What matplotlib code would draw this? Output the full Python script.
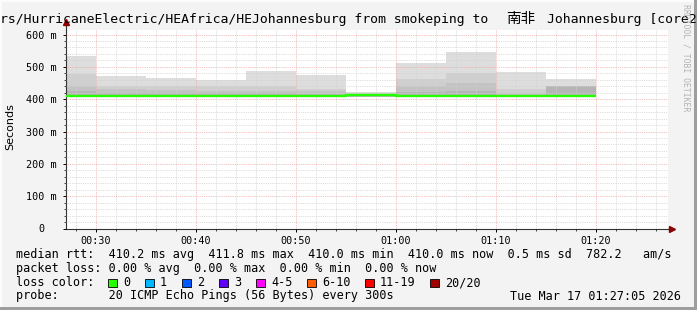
import numpy as np
import matplotlib
matplotlib.use('Agg')
import matplotlib.pyplot as plt
from matplotlib.patches import Rectangle

W, H = 697, 310
MONO = ['DejaVu Sans Mono', 'Noto Sans CJK SC']

# time in minutes after midnight, one bin per 300s step
edges = [27, 30, 35, 40, 45, 50, 55, 60, 65, 70, 75, 80]
median = [410.0, 410.0, 410.0, 410.0, 410.0, 410.0, 413.0, 410.0, 410.0, 410.0, 410.0]
smoke_min = [407, 407, 407, 407, 407, 407, 408, 407, 407, 407, 407]
smoke_lo = [425, 420, 418, 418, 418, 416, 414, 422, 425, 414, 440]
smoke_mid = [442, 430, 428, 424, 426, 424, 416, 440, 450, 420, 440.5]
smoke_hi = [477, 440, 442, 440, 441, 432, 419, 461, 480, 432, 441]
smoke_max = [534, 471, 465, 460, 487, 475, 422, 513, 545, 485, 462]

x_ticks = [30, 40, 50, 60, 70, 80]
x_labels = ['00:30', '00:40', '00:50', '01:00', '01:10', '01:20']
y_ticks = [0, 100, 200, 300, 400, 500, 600]
y_labels = ['0  ', '100 m', '200 m', '300 m', '400 m', '500 m', '600 m']

title_left = 'rs/HurricaneElectric/HEAfrica/HEJohannesburg from smokeping to'
title_cjk = '南非'
title_right = 'Johannesburg [core2'
rtt_row = 'median rtt:  410.2 ms avg  411.8 ms max  410.0 ms min  410.0 ms now  0.5 ms sd  782.2   am/s'
loss_row = 'packet loss: 0.00 % avg  0.00 % max  0.00 % min  0.00 % now'
probe_row = 'probe:       20 ICMP Echo Pings (56 Bytes) every 300s'
stamp = 'Tue Mar 17 01:27:05 2026'
loss_labels = ['0', '1', '2', '3', '4-5', '6-10', '11-19', '20/20']
loss_colors = ['#26ff00', '#00b8ff', '#0059ff', '#5e00ff', '#ff00ff', '#ff5d00', '#ff0000', '#a10000']
loss_box_x = [108, 145, 182, 219, 256, 307, 365, 430]


def fx(px):
    return px / W


def fy(py):
    return 1 - py / H


fig = plt.figure(figsize=(W / 100, H / 100), dpi=100, facecolor='#f3f3f3')

# 3d-ish frame
fig.add_artist(Rectangle((0, fy(2)), 1, 2 / H, transform=fig.transFigure, color='#fcfcfc', lw=0))
fig.add_artist(Rectangle((0, 0), 2 / W, 1, transform=fig.transFigure, color='#fcfcfc', lw=0))
fig.add_artist(Rectangle((fx(694), 0), 3 / W, 1, transform=fig.transFigure, color='#9e9e9e', lw=0))
fig.add_artist(Rectangle((0, 0), 1, 3 / H, transform=fig.transFigure, color='#9e9e9e', lw=0))

ax = fig.add_axes([fx(66), fy(228.5), fx(668) - fx(66), fy(30) - fy(228.5)])
ax.set_facecolor('white')
ax.set_xlim(27, 87.2)
ax.set_ylim(0, 614)

# smoke: nested bands, darker towards the median
ax.stairs(smoke_max, edges, baseline=smoke_min, fill=True, color='#dddddd', lw=0)
ax.stairs(smoke_hi, edges, baseline=smoke_min, fill=True, color='#cfcfcf', lw=0)
ax.stairs(smoke_mid, edges, baseline=smoke_min, fill=True, color='#c3c3c3', lw=0)
ax.stairs(smoke_lo, edges, baseline=smoke_min, fill=True, color='#b5b5b5', lw=0)
ax.stairs(median, edges, baseline=None, color='#26ff00', lw=1.7, zorder=3)

ax.set_xticks(x_ticks)
ax.set_xticklabels(x_labels)
ax.set_xticks(np.arange(28, 88, 2), minor=True)
ax.set_yticks(y_ticks)
ax.set_yticklabels(y_labels)
ax.set_yticks(np.arange(0, 620, 20), minor=True)
ax.set_axisbelow(False)
ax.grid(which='minor', color='#d2d2d2', linestyle=(0, (1, 1.2)), lw=0.6)
ax.grid(which='major', color='#f0a8a8', linestyle=(0, (1, 1.2)), lw=0.6)

for lab in ax.get_xticklabels() + ax.get_yticklabels():
    lab.set_family(MONO)
    lab.set_fontsize(7.3)
ax.tick_params(which='major', length=2.5, width=0.7, direction='out', pad=3)
ax.tick_params(which='minor', length=1.5, width=0.5, direction='out')
ax.tick_params(axis='y', pad=4)

for s in ['top', 'right']:
    ax.spines[s].set_visible(False)
for s in ['left', 'bottom']:
    ax.spines[s].set_linewidth(0.8)
    ax.spines[s].set_color('#333333')

# axis extensions with arrowheads
ax.plot([1.0, 1.005], [0, 0], transform=ax.transAxes, color='#333333', lw=0.8, clip_on=False)
ax.plot([0, 0], [1.0, 1.04], transform=ax.transAxes, color='#333333', lw=0.8, clip_on=False)
ax.plot(1.006, 0, marker='>', ms=4, color='#8b0000', transform=ax.transAxes, clip_on=False)
ax.plot(0, 1.04, marker='^', ms=4, color='#8b0000', transform=ax.transAxes, clip_on=False)

fig.text(fx(0), fy(23), title_left, family=MONO, fontsize=9.45, ha='left', va='baseline')
fig.text(fx(521), fy(23), title_cjk, family=MONO, fontsize=10.5, ha='center', va='baseline')
fig.text(fx(547), fy(23), title_right, family=MONO, fontsize=9.45, ha='left', va='baseline')
fig.text(fx(10), fy(127), 'Seconds', rotation=90, ha='center', va='center', fontsize=8, family='DejaVu Sans')
fig.text(fx(686), fy(58), 'RRDTOOL / TOBI OETIKER', rotation=270, ha='center', va='center',
         fontsize=5.9, family='DejaVu Sans Mono', color='#b4b4b4')

LEG = 8.45
fig.text(fx(16), fy(254.5), rtt_row, family=MONO, fontsize=LEG, ha='left', va='center')
fig.text(fx(16), fy(268.5), loss_row, family=MONO, fontsize=LEG, ha='left', va='center')
fig.text(fx(16), fy(282.5), 'loss color:', family=MONO, fontsize=LEG, ha='left', va='center')
for lab, col, x in zip(loss_labels, loss_colors, loss_box_x):
    fig.add_artist(Rectangle((fx(x), fy(287)), 8.5 / W, 8.5 / H, transform=fig.transFigure,
                             facecolor=col, edgecolor='#000000', lw=0.6))
    fig.text(fx(x + 15), fy(282.5), lab, family=MONO, fontsize=LEG, ha='left', va='center')
fig.text(fx(16), fy(296), probe_row, family=MONO, fontsize=LEG, ha='left', va='center')
fig.text(fx(681), fy(296), stamp, family=MONO, fontsize=LEG, ha='right', va='center')

fig.savefig('out.png', dpi=100, facecolor=fig.get_facecolor())
